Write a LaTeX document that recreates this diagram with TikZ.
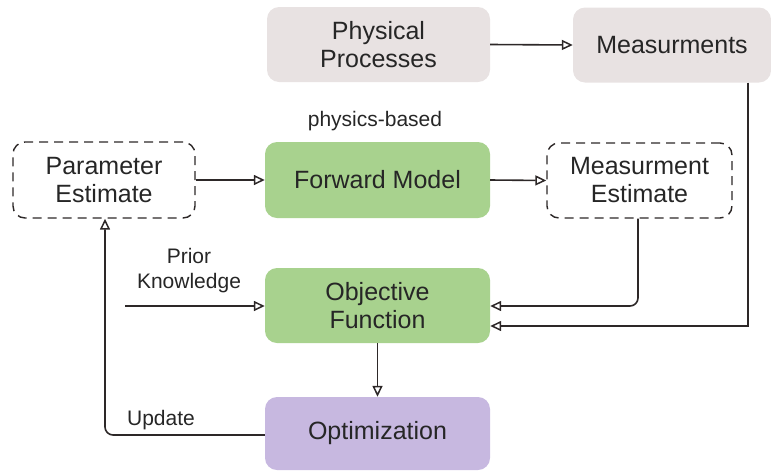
\documentclass[tikz,border=0pt]{standalone}
\usepackage{fontspec}
\setmainfont{Liberation Sans}
\usetikzlibrary{arrows.meta}
\definecolor{boxgray}{RGB}{232,226,226}
\definecolor{boxgreen}{RGB}{168,210,142}
\definecolor{boxpurple}{RGB}{199,184,224}
\definecolor{linegray}{RGB}{45,40,40}
\begin{document}
\begin{tikzpicture}[x=1pt,y=-1pt,
  box/.style={rounded corners=12pt, align=center, inner sep=0pt,
    font=\fontsize{25}{28}\selectfont, text=black!85},
  graybox/.style={box, fill=boxgray},
  greenbox/.style={box, fill=boxgreen},
  purplebox/.style={box, fill=boxpurple},
  dashbox/.style={box, draw=linegray, line width=1.4pt, dash pattern=on 9pt off 6pt},
  lbl/.style={font=\fontsize{21}{25}\selectfont, text=black!85, align=center, inner sep=0pt},
  conn/.style={draw=linegray, line width=1.6pt, -{Triangle[open, length=11pt, width=10pt, line width=1.5pt]}}
]
\useasboundingbox (0,0) rectangle (771,472);
\node[graybox, minimum width=223pt, minimum height=75pt] (pp) at (378.5,44.5) {Physical\\Processes};
\node[graybox, minimum width=198pt, minimum height=75pt] (m) at (672,45) {Measurments};
\node[lbl] (pb) at (375,121) {physics-based};
\node[dashbox, minimum width=182pt, minimum height=76pt] (pe) at (104,180) {Parameter\\Estimate};
\node[greenbox, minimum width=225pt, minimum height=76pt] (fm) at (377.5,180) {Forward Model};
\node[dashbox, minimum width=185pt, minimum height=75pt] (me) at (639.5,180.5) {Measurment\\Estimate};
\node[greenbox, minimum width=225pt, minimum height=75pt] (of) at (377.5,305.5) {Objective\\Function};
\node[purplebox, minimum width=225pt, minimum height=73pt] (opt) at (377.5,433.5) {Optimization};
\node[lbl] (pk) at (189,271) {Prior\\Knowledge};
\node[lbl] (up) at (161,420) {Update};
\coordinate (pkstart) at (125,306);
\coordinate (mecorner) at (638,306);
\coordinate (mcorner) at (748,326);
\coordinate (upcorner) at (105,435);

\draw[conn] (pp.east) -- (m.west);
\draw[conn] (pe.east) -- (fm.west);
\draw[conn] (fm.east) -- (me.west);
\draw[conn, rounded corners=8pt] (me.south -| mecorner) -- (mecorner) -- (of.east |- mecorner);
\draw[conn] (m.south -| mcorner) -- (mcorner) -- (of.east |- mcorner);
\draw[conn] (pkstart) -- (of.west |- pkstart);
\draw[conn] (of.south) -- (opt.north);
\draw[conn, rounded corners=8pt] (opt.west |- upcorner) -- (upcorner) -- (pe.south -| upcorner);
\end{tikzpicture}
\end{document}
